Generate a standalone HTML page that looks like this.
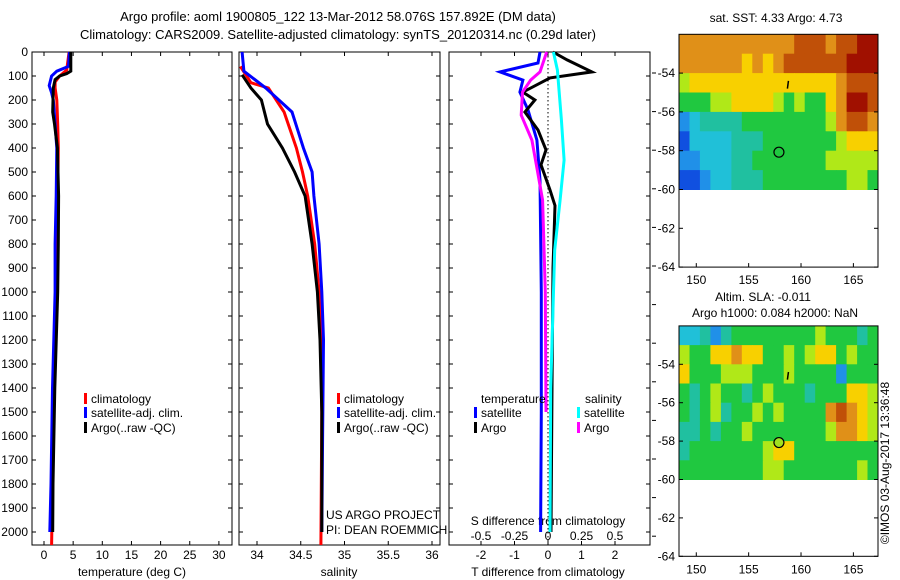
<!DOCTYPE html>
<html><head><meta charset="utf-8"><style>
body{margin:0;background:#fff;}
svg{display:block;font-family:"Liberation Sans",sans-serif;}
text{fill:#000;}
</style></head><body>
<svg id="c" width="900" height="580" viewBox="0 0 900 580">
<text x="338" y="21" font-size="13" text-anchor="middle">Argo profile: aoml 1900805_122 13-Mar-2012 58.076S 157.892E (DM data)</text>
<text x="338" y="39" font-size="13" text-anchor="middle">Climatology: CARS2009. Satellite-adjusted climatology: synTS_20120314.nc (0.29d later)</text>
<g id="p1"></g>
<g id="p2"></g>
<g id="p3"></g>
<g id="m1"></g>
<g id="m2"></g>
<text transform="translate(889,463) rotate(-90)" font-size="12" text-anchor="middle">©IMOS 03-Aug-2017 13:36:48</text>
</svg>
<script>
// ---- data ----
const depthTicks=[0,100,200,300,400,500,600,700,800,900,1000,1100,1200,1300,1400,1500,1600,1700,1800,1900,2000];
const tTicks=[0,5,10,15,20,25,30];
const sTicks=[34,34.5,35,35.5,36];
const dtTicks=[-2,-1,0,1,2];
const dsTicks=[-0.5,-0.25,0,0.25,0.5];
const dsTickLabels=["-0.5","-0.25","0","0.25","0.5"];
const climTDepth=[0,75,100,125,150,200,300,400,500,600,800,1000,1400,1800,2054];
const climT=[4.3,3.9,2.7,1.9,1.9,2.2,2.35,2.45,2.4,2.3,2.2,2.2,1.7,1.45,1.3];
const satTDepth=[0,60,80,100,140,170,200,300,400,600,800,1000,1400,1800,2000];
const satT=[4.35,4.2,2.2,1.3,0.9,1.3,1.6,1.9,2.2,2.1,1.9,1.9,1.45,1.2,1.0];
const argoTDepth=[0,50,80,90,100,115,150,250,300,400,600,800,1000,1400,1800,2000];
const argoT=[4.6,4.6,4.6,3.9,2.7,1.9,1.6,1.5,1.8,2.3,2.5,2.45,2.35,1.85,1.55,1.5];
const climSDepth=[60,128,150,250,400,500,600,800,1000,1200,1500,2054];
const climS=[33.81,33.93,34.13,34.31,34.45,34.52,34.58,34.66,34.71,34.73,34.74,34.73];
const satSDepth=[0,80,150,250,400,500,600,800,1000,1200,1600,2000];
const satS=[33.83,33.85,34.1,34.4,34.53,34.63,34.65,34.71,34.74,34.76,34.75,34.74];
const argoSDepth=[95,150,200,300,400,500,600,700,800,1000,1200,1500,2000];
const argoS=[33.83,33.93,34.05,34.12,34.29,34.43,34.55,34.59,34.63,34.69,34.72,34.74,34.74];
const dSatTDepth=[0,46,83,117,167,240,367,533,1000,1500,2000];
const dSatT=[-0.24,-0.3,-1.43,-0.75,-0.84,-0.6,-0.33,-0.24,-0.2,-0.2,-0.22];
const dArgoTDepth=[0,33,83,108,167,200,250,325,408,470,575,640,900,1400,2000];
const dArgoT=[0.15,0.57,1.31,0.06,-0.75,-0.39,-0.69,-0.3,-0.06,-0.21,0.06,0.21,0.15,0.12,0.09];
const dSatSDepth=[0,75,283,450,617,825,1400,2000];
const dSatS=[0.04,0.07,0.1,0.12,0.09,0.05,0.02,0.015];
const dArgoSDepth=[0,83,117,167,263,367,492,617,1000,1500];
const dArgoS=[-0.01,-0.06,-0.13,-0.19,-0.2,-0.12,-0.08,-0.04,-0.02,-0.015];
const lonTicks=[150,155,160,165];
const latTicks=[-54,-56,-58,-60,-62,-64];
const sstGrid=[
[8,8,8,8,8,8,8,8,8,8,8,9,9,9,8,9,9,10,10],
[8,8,8,8,8,8,7,8,7,8,9,9,9,9,9,9,10,10,10],
[6,7,7,7,7,7,7,7,7,7,7,7,7,7,7,8,9,9,9],
[5,5,5,6,6,7,7,7,7,6,5,6,5,5,7,8,10,10,9],
[2,3,4,4,4,4,5,5,5,5,5,5,5,5,6,8,9,9,8],
[1,3,3,3,3,4,4,4,5,5,5,5,5,5,5,6,7,7,7],
[2,2,3,3,3,4,4,5,5,5,5,5,5,5,6,6,6,6,6],
[1,1,2,3,3,4,4,4,5,5,5,5,5,5,5,5,6,6,5]];
const slaGrid=[
[3,3,4,2,4,5,5,5,5,5,5,5,5,6,5,5,5,4,5],
[6,5,5,7,7,8,7,7,5,5,6,5,6,7,7,5,6,5,5],
[7,5,5,5,6,6,6,5,5,5,6,5,5,5,5,2,5,5,5],
[5,4,5,6,5,5,4,5,6,5,5,5,4,5,5,5,7,7,6],
[5,4,5,6,4,5,5,6,5,6,5,5,5,5,8,9,8,7,6],
[4,4,5,4,5,5,6,5,5,5,5,5,5,5,6,8,8,7,6],
[4,5,5,5,5,5,5,5,6,7,7,5,5,5,5,5,5,5,5],
[5,5,5,5,5,5,5,5,6,6,5,5,5,5,5,5,5,6,5]];
const floatLon=157.892, floatLat=-58.076;
// ---- helpers ----
const NS="http://www.w3.org/2000/svg";
function mk(parent,tag,attrs,txt){const e=document.createElementNS(NS,tag);for(const k in attrs)e.setAttribute(k,attrs[k]);if(txt!==undefined)e.textContent=txt;parent.appendChild(e);return e;}
const Y0=52,YS=0.24,YB=545;
const yD=d=>Y0+d*YS;
function panel(g,x0,x1,name){
  const r=mk(g,'rect',{x:x0,y:Y0,width:x1-x0,height:YB-Y0,fill:'none',stroke:'#000','stroke-width':1});
  
  
}
function line(g,xs,ds,fx,color,name,w){
  const pts=xs.map((v,i)=>fx(v).toFixed(1)+','+yD(ds[i]).toFixed(1)).join(' ');
  const p=mk(g,'polyline',{points:pts,fill:'none',stroke:color,'stroke-width':w||3,'stroke-linejoin':'miter'});
  
  
}
function txt(g,x,y,s,anchor,name,size){
  const t=mk(g,'text',{x:x,y:y,'font-size':size||12,'text-anchor':anchor||'middle'},s);
  
  
  return t;
}
function legendItem(g,x,y,color,label,name){
  const b=mk(g,'rect',{x:x,y:y-10,width:3,height:11,fill:color});
  
  
  txt(g,x+7,y,label,'start',name+'-label');
}
function xticks(g,vals,fx,labels,ly,name){
  vals.forEach((v,i)=>{const x=fx(v);
    mk(g,'line',{x1:x,y1:YB,x2:x,y2:YB-4,stroke:'#000'});
    mk(g,'line',{x1:x,y1:Y0,x2:x,y2:Y0+4,stroke:'#000'});
    if(ly) txt(g,x,ly,labels?labels[i]:String(v),'middle',name+'-tick-label');});
}
function yticks(g,x0,x1,labels){
  depthTicks.forEach(d=>{const y=yD(d);
    mk(g,'line',{x1:x0,y1:y,x2:x0+4,y2:y,stroke:'#000'});
    mk(g,'line',{x1:x1,y1:y,x2:x1-4,y2:y,stroke:'#000'});
    if(labels) txt(g,x0-4,y+4,String(d),'end','depth-tick-label');});
}
// ---- panel 1: temperature ----
const p1=document.getElementById('p1');
const xT=v=>44+5.83*v;
panel(p1,32,232,'temperature-panel');
yticks(p1,32,232,true);
xticks(p1,tTicks,xT,null,559,'temperature');
txt(p1,132,576,'temperature (deg C)','middle','temperature-axis-title');
line(p1,climT,climTDepth,xT,'#ff0000','temperature-climatology-line');
line(p1,satT,satTDepth,xT,'#0000ff','temperature-satellite-line');
line(p1,argoT,argoTDepth,xT,'#000000','temperature-argo-line');
legendItem(p1,84,403,'#ff0000','climatology','legend-climatology');
legendItem(p1,84,417,'#0000ff','satellite-adj. clim.','legend-satellite');
legendItem(p1,84,432,'#000000','Argo(..raw -QC)','legend-argo');
// ---- panel 2: salinity ----
const p2=document.getElementById('p2');
const xS=v=>257+87.5*(v-34);
panel(p2,239,440,'salinity-panel');
yticks(p2,239,440,false);
xticks(p2,sTicks,xS,null,559,'salinity');
txt(p2,339,576,'salinity','middle','salinity-axis-title');
line(p2,climS,climSDepth,xS,'#ff0000','salinity-climatology-line');
line(p2,satS,satSDepth,xS,'#0000ff','salinity-satellite-line');
line(p2,argoS,argoSDepth,xS,'#000000','salinity-argo-line');
legendItem(p2,337,403,'#ff0000','climatology','legend2-climatology');
legendItem(p2,337,417,'#0000ff','satellite-adj. clim.','legend2-satellite');
legendItem(p2,337,432,'#000000','Argo(..raw -QC)','legend2-argo');
txt(p2,326,519,'US ARGO PROJECT','start','us-argo-project-label');
txt(p2,326,534,'PI: DEAN ROEMMICH','start','pi-label');
// ---- panel 3: differences ----
const p3=document.getElementById('p3');
const xDT=v=>548+33.5*v, xDS=v=>548+134*v;
panel(p3,449,650,'difference-panel');
yticks(p3,449,650,false);
xticks(p3,dtTicks,xDT,null,559,'t-diff');
dsTicks.forEach((v,i)=>txt(p3,xDS(v),540,dsTickLabels[i],'middle','s-diff-tick-label'));
txt(p3,548,525,'S difference from climatology','middle','s-diff-axis-title');
txt(p3,548,576,'T difference from climatology','middle','t-diff-axis-title');
const zl=mk(p3,'line',{x1:548,y1:Y0,x2:548,y2:YB,stroke:'#000','stroke-dasharray':'1.5,2.5'});


line(p3,dSatT,dSatTDepth,xDT,'#0000ff','t-diff-satellite-line');
line(p3,dArgoT,dArgoTDepth,xDT,'#000000','t-diff-argo-line');
line(p3,dArgoS,dArgoSDepth,xDS,'#ff00ff','s-diff-argo-line');
line(p3,dSatS,dSatSDepth,xDS,'#00ffff','s-diff-satellite-line');
txt(p3,481,403,'temperature','start','legend-temperature-heading');
txt(p3,585,403,'salinity','start','legend-salinity-heading');
legendItem(p3,474,417,'#0000ff','satellite','legend-t-satellite');
legendItem(p3,474,432,'#000000','Argo','legend-t-argo');
legendItem(p3,577,417,'#00ffff','satellite','legend-s-satellite');
legendItem(p3,577,432,'#ff00ff','Argo','legend-s-argo');
for(let y=73;y<540;y+=38.6){mk(p3,'line',{x1:652,y1:y,x2:656,y2:y,stroke:'#000'});}
// ---- maps ----
const cmap=['#0020a0','#1050e0','#2090e8','#20c0d8','#20c0a0','#20c840','#b0e818','#f8d000','#e09018','#c05008','#a01000'];
const LON0=148.35,LON1=167.35,XL=679,XR=878;
const xLon=l=>XL+(l-LON0)*(XR-XL)/(LON1-LON0);
function map(g,grid,yTop,ys,name,titleLines){
  const yLat=lat=>yTop+(-52-lat)*ys;
  grid.forEach((row,r)=>row.forEach((v,c)=>{
    const x=xLon(LON0+c),x2=xLon(LON0+c+1),y=yLat(-52-r),y2=yLat(-53-r);
    const cell=mk(g,'rect',{x:x.toFixed(1),y:y.toFixed(1),width:(x2-x+0.5).toFixed(1),height:(y2-y+0.5).toFixed(1),fill:cmap[v]});
    
    
  }));
  const fr=mk(g,'rect',{x:XL,y:yTop,width:XR-XL,height:yLat(-64)-yTop,fill:'none',stroke:'#000'});
  
  
  latTicks.forEach(l=>{const y=yLat(l);mk(g,'line',{x1:XL,y1:y,x2:XL+4,y2:y,stroke:'#000'});mk(g,'line',{x1:XR,y1:y,x2:XR-4,y2:y,stroke:'#000'});txt(g,XL-4,y+4,String(l),'end',name+'-lat-label');});
  lonTicks.forEach(l=>{const x=xLon(l);mk(g,'line',{x1:x,y1:yLat(-64),x2:x,y2:yLat(-64)-4,stroke:'#000'});txt(g,x,yLat(-64)+17,String(l),'middle',name+'-lon-label');});
  const c=mk(g,'circle',{cx:xLon(floatLon),cy:yLat(floatLat),r:5,fill:name==='sla-map'?'#a0e020':'#20c840',stroke:'#000','stroke-width':1.2});
  
  
  const t=mk(g,'line',{x1:xLon(158.8),y1:yLat(-54.4),x2:xLon(158.7),y2:yLat(-54.8),stroke:'#000','stroke-width':1.5});
  
  
  titleLines.forEach((s,i)=>txt(g,s[1],s[2],s[0],'middle',name+'-title'));
}
map(document.getElementById('m1'),sstGrid,34.3,19.4,'sst-map',[['sat. SST: 4.33 Argo: 4.73',776,22]]);
map(document.getElementById('m2'),slaGrid,325.9,19.2,'sla-map',[['Altim. SLA: -0.011',763,301],['Argo h1000: 0.084 h2000: NaN',775,317]]);
</script>
</body></html>
